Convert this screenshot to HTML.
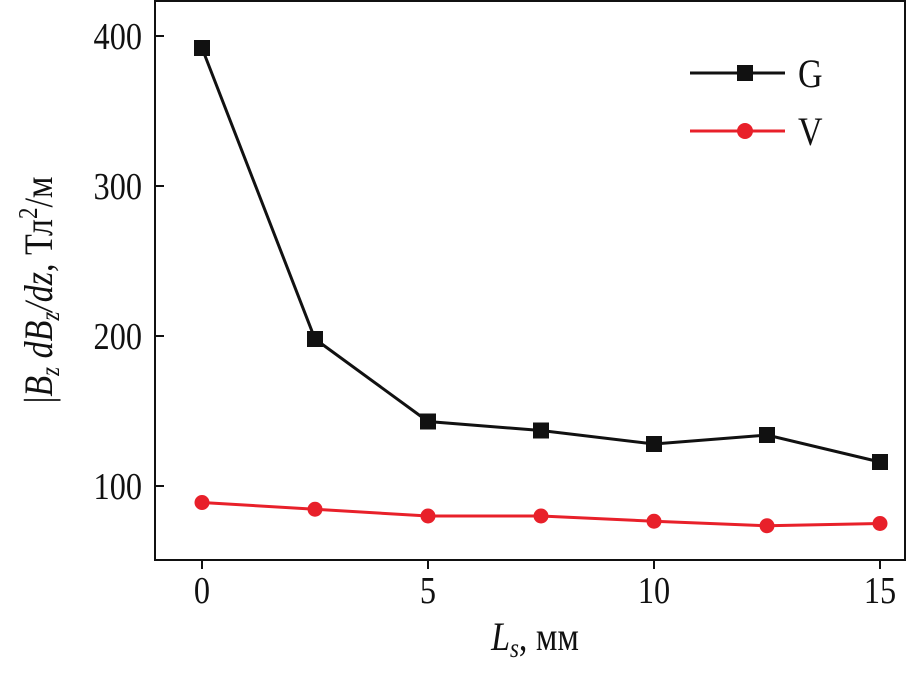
<!DOCTYPE html>
<html><head><meta charset="utf-8"><style>
body{margin:0;background:#fff}
svg text{font-family:"Liberation Serif","DejaVu Serif",serif;fill:#111}
</style></head><body>
<svg id="c" width="918" height="676" xmlns="http://www.w3.org/2000/svg">
<rect x="155" y="1" width="750" height="559" fill="none" stroke="#111" stroke-width="2"/>
<g id="axes"></g>
<g id="series"></g>
<g>
<line x1="690" y1="73" x2="785" y2="73" stroke="#111" stroke-width="3"/>
<rect x="737" y="65" width="16" height="16" fill="#111"/>
<text x="798" y="87" font-size="40" transform="translate(798 0) scale(0.85 1) translate(-798 0)">G</text>
<line x1="690" y1="131" x2="785" y2="131" stroke="#e8202a" stroke-width="3"/>
<circle cx="745" cy="131" r="8" fill="#e8202a"/>
<text x="798" y="145" font-size="40" transform="translate(798 0) scale(0.85 1) translate(-798 0)">V</text>
</g>
<text transform="translate(52 290) rotate(-90) scale(0.85 1)" text-anchor="middle" font-size="40">|<tspan font-style="italic">B</tspan><tspan font-style="italic" font-size="27" dy="7">z</tspan><tspan dy="-7"> </tspan><tspan font-style="italic">dB</tspan><tspan font-style="italic" font-size="27" dy="7">z</tspan><tspan dy="-7" font-style="italic">/dz</tspan>, Тл<tspan font-size="27" dy="-15">2</tspan><tspan dy="15">/м</tspan></text>
<text transform="translate(535 650) scale(0.85 1)" text-anchor="middle" font-size="40"><tspan font-style="italic">L</tspan><tspan font-style="italic" font-size="27" dy="7">s</tspan><tspan dy="-7">, мм</tspan></text>
</svg>
<script>
const xValues=[0,2.5,5,7.5,10,12.5,15];
const seriesG=[392,198,143,137,128,134,116];
const seriesV=[89,84.5,80,80,76.5,73.5,75];
const xTicks=[0,5,10,15];
const yTicks=[100,200,300,400];
const NS="http://www.w3.org/2000/svg";
function sx(v){return 202+v*45.2;}
function sy(v){return 36+(400-v)*1.5;}
function mk(tag,attrs,parent){const e=document.createElementNS(NS,tag);for(const k in attrs)e.setAttribute(k,attrs[k]);parent.appendChild(e);return e;}
const ax=document.getElementById('axes');
yTicks.forEach(t=>{
 const l=mk('line',{x1:155,x2:164,y1:sy(t),y2:sy(t),stroke:'#111','stroke-width':2},ax);
 
 
 const tx=mk('text',{x:142,y:sy(t)+13,'font-size':38,'text-anchor':'end',transform:`translate(142 0) scale(0.85 1) translate(-142 0)`},ax);
 tx.textContent=t;
 
 
});
xTicks.forEach(t=>{
 const l=mk('line',{x1:sx(t),x2:sx(t),y1:560,y2:569,stroke:'#111','stroke-width':2},ax);
 
 
 const tx=mk('text',{x:sx(t),y:603,'font-size':38,'text-anchor':'middle',transform:`translate(${sx(t)} 0) scale(0.85 1) translate(${-sx(t)} 0)`},ax);
 tx.textContent=t;
 
 
});
const sg=document.getElementById('series');
function draw(vals,color,shape,name){
 const p=mk('polyline',{points:vals.map((v,i)=>sx(xValues[i])+','+sy(v)).join(' '),fill:'none',stroke:color,'stroke-width':3},sg);
 
 
 vals.forEach((v,i)=>{
  let m;
  if(shape==='sq')m=mk('rect',{x:sx(xValues[i])-8,y:sy(v)-8,width:16,height:16,fill:color},sg);
  else m=mk('circle',{cx:sx(xValues[i]),cy:sy(v),r:7.5,fill:color},sg);
  
  
 });
}
draw(seriesV,'#e8202a','ci','series-v');
draw(seriesG,'#111','sq','series-g');
</script>
</body></html>
